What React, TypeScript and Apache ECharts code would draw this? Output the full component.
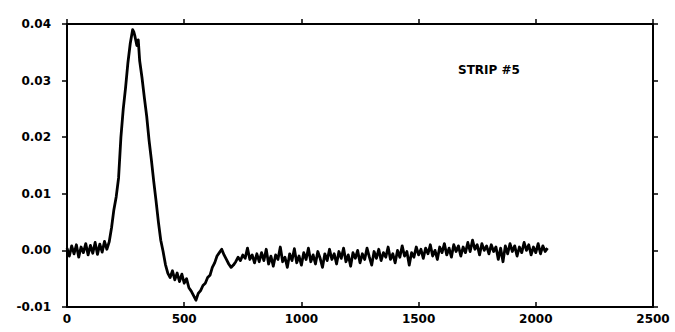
import React, { useEffect, useRef } from "react";
import * as echarts from "echarts";

// x-axis ticks (channel) and y-axis ticks
const xTicks = [0, 500, 1000, 1500, 2000, 2500];
const yTicks = [-0.01, 0.0, 0.01, 0.02, 0.03, 0.04];
const stripLabel = "STRIP #5";

// Trace, in [x, y] pairs
const baseline: [number, number][] = [
  [0, 0.0004], [10, -0.001], [20, 0.0008], [30, -0.0006], [40, 0.001], [50, -0.0012],
  [60, 0.0006], [70, -0.0004], [80, 0.0012], [90, -0.0008], [100, 0.0009], [110, -0.0005],
  [120, 0.0014], [130, -0.0007], [140, 0.0011], [150, -0.0003], [160, 0.0016], [170, 0.0002],
];

const peak: [number, number][] = [
  [180, 0.0015], [190, 0.004], [200, 0.0072], [210, 0.0095], [220, 0.0128], [230, 0.02],
  [240, 0.025], [250, 0.0288], [260, 0.0332], [270, 0.0366], [280, 0.039], [285, 0.0386],
  [290, 0.0378], [298, 0.0362], [304, 0.0372], [310, 0.0335], [320, 0.0305], [330, 0.027],
  [340, 0.0237], [350, 0.0195], [360, 0.016], [370, 0.0122], [380, 0.0087], [390, 0.005],
  [400, 0.0018], [410, -0.0002], [420, -0.0025], [430, -0.004],
];

const undershoot: [number, number][] = [
  [440, -0.0048], [450, -0.0036], [460, -0.0052], [470, -0.004], [480, -0.0055], [490, -0.0042],
  [500, -0.0058], [510, -0.005], [520, -0.0066], [530, -0.0072], [540, -0.008], [550, -0.0088],
  [560, -0.0076], [570, -0.0071], [580, -0.0062], [590, -0.0058], [600, -0.0048], [610, -0.0044],
  [620, -0.003], [630, -0.0022], [640, -0.001], [650, -0.0004], [660, 0.0002], [670, -0.0008],
  [680, -0.0016], [690, -0.0024], [700, -0.003], [710, -0.0026], [720, -0.002], [730, -0.0012],
  [740, -0.0018], [750, -0.0008], [760, -0.0014], [770, 0.0004], [780, -0.0016], [790, -0.0008],
  [800, -0.0022],
];

const tail: [number, number][] = [
  [810, -0.0006], [820, -0.002], [830, -0.0004], [840, -0.0018], [850, 0.0002], [860, -0.0024],
  [870, -0.001], [880, -0.0028], [890, -0.0008], [900, -0.0016], [910, 0.0006], [920, -0.002],
  [930, -0.0012], [940, -0.003], [950, -0.0006], [960, -0.0018], [970, 0.0003], [980, -0.0022],
  [990, -0.001], [1000, -0.0026], [1010, -0.0004], [1020, -0.0016], [1030, 0.0004], [1040, -0.002],
  [1050, -0.0008], [1060, -0.0024], [1070, -0.0002], [1080, -0.0014], [1090, -0.003], [1100, -0.0006],
  [1110, -0.0018], [1120, 0.0002], [1130, -0.0016], [1140, -0.0006], [1150, -0.0024], [1160, -0.0002],
  [1170, -0.0014], [1180, 0.0004], [1190, -0.002], [1200, -0.0008], [1210, -0.0028], [1220, -0.0004],
  [1230, -0.0014], [1240, 0.0], [1250, -0.0022], [1260, -0.0006], [1270, -0.0016], [1280, 0.0004],
  [1290, -0.0012], [1300, -0.0026], [1310, -0.0002], [1320, -0.0014], [1330, 0.0002], [1340, -0.0018],
  [1350, -0.0004], [1360, -0.0012], [1370, 0.0006], [1380, -0.0016], [1390, -0.0006], [1400, -0.0022],
  [1410, 0.0], [1420, -0.0012], [1430, 0.0008], [1440, -0.001], [1450, -0.0002], [1460, -0.0026],
  [1470, -0.0004], [1480, -0.0012], [1490, 0.0006], [1500, -0.0008], [1510, 0.0002], [1520, -0.0014],
  [1530, 0.0004], [1540, -0.0006], [1550, 0.001], [1560, -0.001], [1570, 0.0], [1580, -0.0016],
  [1590, 0.0006], [1600, -0.0004], [1610, 0.0012], [1620, -0.0008], [1630, 0.0004], [1640, -0.0012],
  [1650, 0.001], [1660, -0.0002], [1670, 0.0008], [1680, -0.001], [1690, 0.0006], [1700, -0.0004],
  [1710, 0.0014], [1720, -0.0002], [1730, 0.0018], [1740, 0.0002], [1750, 0.001], [1760, -0.0008],
  [1770, 0.0012], [1780, 0.0], [1790, 0.0008], [1800, -0.0006], [1810, 0.001], [1820, -0.0002],
  [1830, 0.0006], [1840, -0.0016], [1850, 0.0004], [1860, -0.002], [1870, 0.0008], [1880, -0.0006],
  [1890, 0.0012], [1900, -0.0002], [1910, 0.0008], [1920, -0.001], [1930, 0.0006], [1940, -0.0004],
  [1950, 0.0014], [1960, 0.0], [1970, 0.001], [1980, -0.0008], [1990, 0.0006], [2000, -0.0004],
  [2010, 0.0012], [2020, -0.0006], [2030, 0.0008], [2040, -0.0002], [2050, 0.0004],
];

const FONT = "DejaVu Sans";

export default function App() {
  const ref = useRef<HTMLDivElement>(null);
  useEffect(() => {
    if (!ref.current) return;
    const chart = echarts.init(ref.current, undefined, { renderer: "svg" });
    const xMin = xTicks[0];
    const xMax = xTicks[xTicks.length - 1];
    const xInt = xTicks[1] - xTicks[0];
    const yMin = yTicks[0];
    const yMax = yTicks[yTicks.length - 1];
    const yInt = 0.01;
    const axisLine = { show: true, onZero: false, lineStyle: { color: "#000", width: 2 } };
    const data = [...baseline, ...peak, ...undershoot, ...tail];
    chart.setOption({
      animation: false,
      backgroundColor: "#fff",
      grid: { left: 67, right: 22, top: 24, bottom: 25, containLabel: false },
      xAxis: [
        {
          type: "value", position: "bottom", min: xMin, max: xMax, interval: xInt,
          axisLine, splitLine: { show: false },
          axisTick: { show: true, inside: true, length: 5, lineStyle: { color: "#000", width: 1.5 } },
          axisLabel: {
            color: "#000", fontFamily: FONT, fontWeight: "bold", fontSize: 12, margin: 6,
            formatter: (v: number) => String(v),
          },
        },
        {
          type: "value", position: "top", min: xMin, max: xMax, interval: xInt,
          axisLine, splitLine: { show: false },
          axisTick: { show: true, inside: false, length: 5, lineStyle: { color: "#000", width: 1.5 } },
          axisLabel: { show: false },
        },
      ],
      yAxis: [
        {
          type: "value", position: "left", min: yMin, max: yMax, interval: yInt,
          axisLine, splitLine: { show: false },
          axisTick: { show: true, inside: false, length: 5, lineStyle: { color: "#000", width: 1.5 } },
          axisLabel: {
            color: "#000", fontFamily: FONT, fontWeight: "bold", fontSize: 12, margin: 16,
            formatter: (v: number) => (Math.abs(v) < 1e-9 ? "0.00" : v.toFixed(2)),
          },
        },
        {
          type: "value", position: "right", min: yMin, max: yMax, interval: yInt,
          axisLine, splitLine: { show: false },
          axisTick: { show: true, inside: false, length: 5, lineStyle: { color: "#000", width: 1.5 } },
          axisLabel: { show: false },
        },
      ],
      graphic: [
        {
          type: "text", left: 458, top: 64,
          style: { text: stripLabel, fill: "#000", font: `bold 12px "${FONT}"` },
        },
      ],
      series: [
        {
          type: "line", xAxisIndex: 0, yAxisIndex: 0, data,
          showSymbol: false, symbol: "none",
          lineStyle: { color: "#000", width: 2.8, join: "round" },
        },
      ],
    });
    return () => chart.dispose();
  }, []);
  return <div ref={ref} style={{ width: 675, height: 332, position: "absolute", left: 0, top: 0 }} />;
}
